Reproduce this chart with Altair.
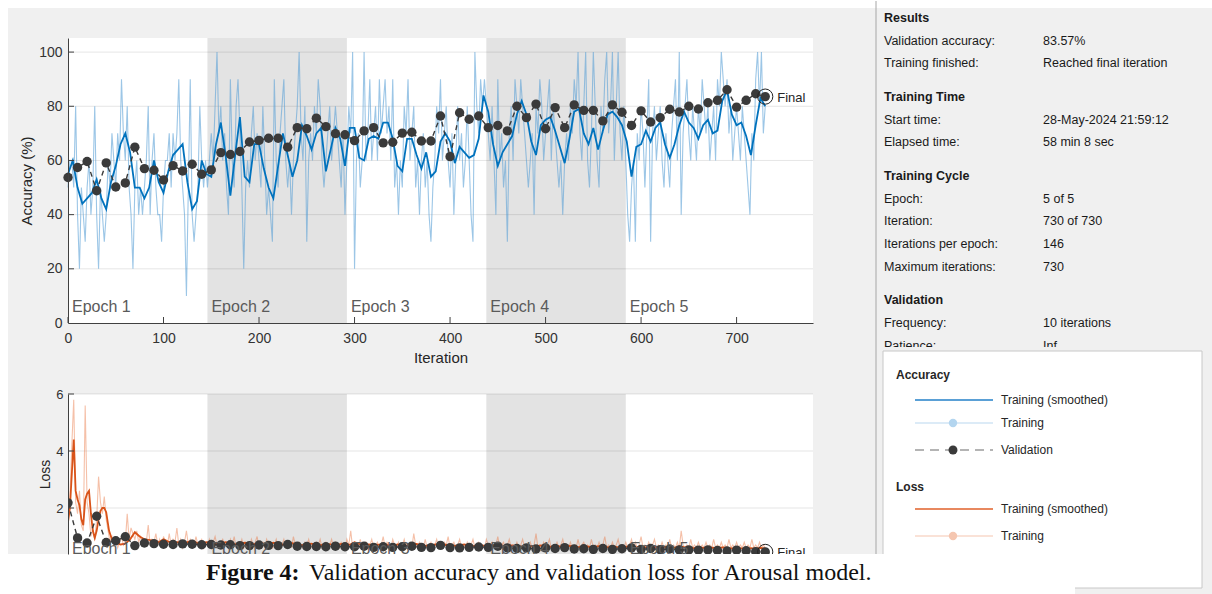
import altair as alt
import pandas as pd

# ---------------- data ----------------
x_ticks = [0, 100, 200, 300, 400, 500, 600, 700]
acc_ticks = [0, 20, 40, 60, 80, 100]
loss_ticks = [2, 4, 6]
epoch_starts = [0, 146, 292, 438, 584]
epoch_labels = ["Epoch 1", "Epoch 2", "Epoch 3", "Epoch 4", "Epoch 5"]
shade_start = [146, 438]
shade_end = [292, 584]

# validation every 10 iterations (0..730)
val_acc = [53.7, 57.4, 59.6, 48.8, 59.1, 50.2, 51.7, 64.9, 57.0, 56.4,
           52.8, 58.1, 56.1, 58.6, 54.9, 56.5, 62.9, 62.2, 63.3, 66.8,
           67.4, 68.2, 68.2, 64.9, 72.1, 71.7, 75.6, 72.5, 69.9, 69.5,
           67.3, 70.9, 72.1, 66.5, 66.7, 70.1, 70.4, 67.2, 67.2, 76.4,
           61.4, 77.6, 75.2, 76.4, 72.1, 72.9, 70.9, 80.0, 75.8, 80.8,
           71.7, 79.5, 72.1, 80.5, 78.5, 78.5, 74.6, 80.5, 77.8, 72.9,
           78.3, 74.2, 75.8, 78.9, 77.9, 80.0, 79.0, 81.3, 82.2, 86.1,
           79.7, 82.2, 84.6, 83.57]
val_loss = [2.18, 0.95, 0.77, 1.71, 0.79, 0.85, 0.99, 0.68, 0.77, 0.75,
            0.73, 0.72, 0.74, 0.73, 0.71, 0.72, 0.70, 0.71, 0.68, 0.68,
            0.70, 0.69, 0.68, 0.72, 0.66, 0.65, 0.65, 0.64, 0.66, 0.64,
            0.64, 0.66, 0.62, 0.64, 0.62, 0.64, 0.66, 0.62, 0.61, 0.69,
            0.61, 0.60, 0.62, 0.63, 0.62, 0.66, 0.60, 0.58, 0.60, 0.56,
            0.60, 0.58, 0.61, 0.56, 0.57, 0.55, 0.58, 0.55, 0.57, 0.60,
            0.55, 0.58, 0.54, 0.56, 0.53, 0.53, 0.52, 0.53, 0.51, 0.49,
            0.52, 0.50, 0.47, 0.46]

# smoothed training accuracy, every 5 iterations (0..730)
smooth_acc = [55, 60, 50, 44, 46, 48, 53, 46, 42, 52,
              58, 66, 70, 63, 50, 50, 46, 50, 60, 52,
              48, 56, 62, 64, 66, 52, 42, 45, 60, 55,
              54, 66, 74, 62, 47, 62, 76, 54, 52, 66,
              66, 57, 50, 46, 58, 70, 62, 54, 60, 73,
              69, 64, 70, 72, 56, 64, 72, 68, 58, 72,
              72, 61, 60, 68, 69, 68, 74, 74, 68, 58,
              56, 68, 68, 62, 57, 63, 54, 56, 67, 70,
              67, 59, 65, 63, 61, 62, 68, 84, 78, 66,
              58, 63, 66, 69, 77, 82, 77, 67, 62, 73,
              75, 76, 71, 65, 59, 68, 78, 79, 70, 66,
              72, 64, 71, 77, 78, 76, 73, 67, 54, 65,
              66, 71, 67, 72, 74, 66, 61, 66, 73, 78,
              74, 72, 68, 73, 75, 70, 71, 82, 86, 77,
              73, 74, 69, 62, 73, 83, 80]

# raw training accuracy, every 2 iterations, one list per epoch
train_acc_e1 = [50, 60, 60, 50, 80, 40, 20, 50, 40, 30,
                50, 60, 40, 50, 80, 40, 20, 50, 40, 30,
                40, 60, 50, 70, 60, 50, 70, 60, 90, 70,
                60, 80, 50, 40, 20, 50, 60, 40, 50, 40,
                50, 60, 80, 40, 60, 70, 50, 40, 40, 30,
                50, 60, 60, 70, 50, 70, 60, 70, 90, 60,
                50, 40, 10, 50, 90, 40, 30, 40, 50, 80,
                60, 50, 60]
train_acc_e2 = [50, 60, 70, 60, 80, 100, 70, 80, 60, 70,
                50, 40, 90, 60, 50, 80, 90, 70, 50, 20,
                50, 60, 50, 70, 80, 60, 70, 60, 50, 80,
                60, 40, 50, 40, 30, 90, 60, 50, 70, 80,
                90, 60, 50, 60, 40, 60, 70, 80, 100, 70,
                60, 80, 30, 60, 70, 60, 80, 70, 90, 80,
                60, 50, 60, 70, 80, 60, 70, 80, 70, 60,
                50, 70, 40]
train_acc_e3 = [60, 80, 70, 100, 20, 60, 70, 50, 60, 100,
                60, 70, 90, 60, 70, 80, 60, 90, 70, 80,
                90, 70, 80, 60, 90, 50, 60, 40, 60, 50,
                80, 70, 90, 60, 70, 80, 50, 60, 40, 60,
                70, 50, 60, 40, 30, 50, 60, 80, 70, 90,
                60, 70, 80, 60, 50, 70, 40, 60, 80, 60,
                70, 50, 60, 80, 60, 40, 30, 100, 80, 70,
                90, 80, 90]
train_acc_e4 = [80, 70, 60, 80, 60, 40, 90, 60, 70, 50,
                60, 30, 70, 80, 60, 90, 80, 70, 90, 80,
                70, 60, 50, 60, 70, 40, 80, 70, 90, 80,
                60, 70, 80, 90, 60, 80, 70, 60, 50, 60,
                40, 60, 70, 60, 80, 70, 90, 80, 100, 70,
                60, 80, 100, 60, 50, 70, 100, 80, 60, 50,
                80, 70, 90, 100, 70, 80, 100, 60, 80, 100,
                70, 60, 80]
train_acc_e5 = [60, 40, 30, 50, 60, 30, 70, 60, 80, 70,
                50, 70, 90, 30, 70, 80, 60, 70, 80, 60,
                50, 70, 60, 50, 70, 80, 90, 60, 100, 40,
                70, 80, 90, 70, 60, 80, 70, 60, 80, 70,
                90, 80, 70, 80, 60, 70, 80, 60, 90, 80,
                100, 90, 80, 90, 70, 80, 60, 70, 80, 70,
                60, 80, 70, 60, 50, 40, 70, 60, 90, 100,
                80, 100, 70, 80]

# smoothed training loss
loss_smooth_iter_early = [0, 2, 4, 6, 8, 10, 12, 14, 16, 18, 20, 22, 24, 26, 28, 30, 32, 34, 36, 38, 40,
                          43, 46, 50, 55, 60, 65, 70, 75, 80, 85, 90, 95, 100, 105, 110, 115, 120,
                          125, 130, 135, 140, 145]
loss_smooth_early = [1.5, 2.0, 3.2, 4.4, 2.6, 2.3, 2.1, 1.6, 1.4, 2.3, 2.5,
                     2.6, 1.8, 1.2, 0.95, 1.2, 1.6, 1.9, 2.0, 2.0, 1.85,
                     1.2, 0.9, 0.8, 0.72, 0.75, 0.9, 1.15, 1.0, 0.9, 0.88, 0.85, 0.8, 0.9,
                     0.82, 0.78, 0.8, 0.76, 0.8, 0.85, 0.78, 0.74, 0.8]
# from iteration 150 to 730 every 5 iterations
loss_smooth_late = [0.78, 0.74, 0.76, 0.80, 0.75, 0.72, 0.76, 0.78, 0.74, 0.73,
                    0.76, 0.72, 0.74, 0.78, 0.73, 0.71, 0.75, 0.77, 0.72, 0.70,
                    0.73, 0.75, 0.71, 0.70, 0.74, 0.72, 0.69, 0.73, 0.75, 0.71,
                    0.80, 0.74, 0.70, 0.72, 0.69, 0.71, 0.74, 0.70, 0.68, 0.72,
                    0.70, 0.68, 0.72, 0.74, 0.69, 0.67, 0.70, 0.72, 0.68, 0.71,
                    0.69, 0.67, 0.70, 0.72, 0.68, 0.66, 0.70, 0.68, 0.65, 0.69,
                    0.74, 0.68, 0.66, 0.69, 0.67, 0.64, 0.68, 0.66, 0.65, 0.69,
                    0.66, 0.64, 0.67, 0.65, 0.63, 0.67, 0.65, 0.63, 0.66, 0.64,
                    0.62, 0.66, 0.64, 0.62, 0.65, 0.63, 0.61, 0.64, 0.66, 0.62,
                    0.64, 0.62, 0.60, 0.63, 0.61, 0.64, 0.62, 0.60, 0.66, 0.63,
                    0.61, 0.59, 0.62, 0.60, 0.58, 0.61, 0.59, 0.62, 0.60, 0.58,
                    0.60, 0.58, 0.56, 0.59, 0.57, 0.60, 0.58]

# raw training loss, every 2 iterations
train_loss_e1 = [1.6, 2.4, 4.2, 5.8, 2.2, 1.8, 2.6, 1.4, 1.2, 5.6,
                 2.2, 1.8, 1.0, 1.3, 0.9, 1.6, 3.1, 2.2, 1.8, 2.4,
                 1.6, 1.2, 0.8, 1.0, 0.7, 0.9, 0.6, 0.8, 1.0, 0.7,
                 0.8, 1.8, 0.9, 1.3, 1.1, 0.9, 1.2, 0.8, 1.0, 0.7,
                 0.9, 0.8, 1.4, 0.7, 0.9, 0.8, 1.1, 0.7, 0.9, 0.6,
                 1.0, 0.8, 0.7, 1.1, 0.7, 0.9, 0.8, 1.3, 0.7, 0.9,
                 0.6, 0.8, 1.2, 0.7, 0.9, 0.8, 0.7, 1.0, 0.7, 0.8,
                 0.9, 0.6, 0.8]
train_loss_rest = [0.7, 0.9, 0.6, 0.8, 1.0, 0.7, 0.6, 0.8, 0.9, 0.7,
                   0.8, 0.6, 0.9, 0.7, 1.0, 0.6, 0.8, 0.7, 0.9, 0.6,
                   0.8, 0.7, 0.6, 0.9, 0.7, 0.8, 1.0, 0.6, 0.7, 0.8,
                   0.6, 0.9, 0.7, 0.8, 0.6, 0.7, 0.9, 0.6, 0.8, 0.7,
                   0.9, 0.6, 0.7, 0.8, 0.6, 1.0, 0.7, 0.6, 0.8, 0.7,
                   0.6, 0.8, 0.7, 0.9, 0.6, 0.7, 0.6, 0.8, 0.7, 0.9,
                   0.6, 0.7, 0.8, 0.6, 0.7, 0.9, 0.6, 0.8, 0.7, 0.6,
                   0.8, 0.7, 0.6, 0.9, 0.7, 1.2, 0.6, 0.8, 0.7, 0.6,
                   0.9, 0.6, 0.7, 0.8, 0.6, 0.7, 0.9, 0.6, 0.7, 0.8,
                   0.6, 0.7, 1.0, 0.6, 0.8, 0.7, 0.6, 0.9, 0.7, 0.6,
                   0.8, 0.6, 0.7, 0.9, 0.6, 0.7, 0.8, 0.6, 1.1, 0.7,
                   0.6, 0.8, 0.7, 0.6, 0.9, 0.6, 0.7, 0.8, 0.6, 0.7,
                   0.9, 0.6, 0.7, 0.6, 0.8, 0.7, 1.0, 0.6, 0.7, 0.8,
                   0.6, 0.7, 0.9, 0.6, 0.7, 0.6, 0.8, 0.6, 0.7, 0.9,
                   0.6, 0.7, 0.8, 0.6, 0.7, 0.6, 0.9, 0.7, 0.6, 0.8,
                   0.6, 0.7, 1.0, 0.6, 0.7, 0.8, 0.6, 0.7, 0.9, 0.6,
                   0.7, 0.6, 0.8, 0.6, 0.7, 0.9, 0.6, 0.7, 0.6, 0.8,
                   0.6, 0.7, 1.1, 0.6, 0.7, 0.6, 0.8, 0.6, 0.7, 0.9,
                   0.6, 0.7, 0.6, 0.8, 0.6, 0.7, 0.9, 0.6, 0.7, 0.6,
                   0.8, 0.6, 0.7, 0.6, 0.9, 0.6, 0.7, 0.8, 0.6, 0.7,
                   0.6, 0.9, 0.6, 0.7, 0.6, 0.8, 0.6, 0.7, 1.0, 0.6,
                   0.7, 0.6, 0.8, 0.6, 0.7, 0.9, 0.6, 0.7, 0.6, 0.8,
                   0.6, 0.7, 0.9, 0.6, 0.8, 0.6, 0.7, 1.0, 0.6, 0.7,
                   0.6, 0.8, 0.6, 0.7, 0.9, 0.6, 0.7, 0.6, 0.8, 0.6,
                   0.7, 0.6, 0.9, 0.6, 0.7, 0.6, 0.8, 0.6, 1.2, 0.7,
                   0.6, 0.7, 0.6, 0.9, 0.6, 0.7, 0.6, 0.8, 0.6, 0.7,
                   0.6, 0.8, 0.6, 0.7, 0.6, 0.9, 0.6, 0.7, 0.6, 0.8,
                   0.6, 0.7, 0.6, 0.9, 0.6, 0.7, 0.6, 0.8, 0.6, 0.7,
                   0.6, 0.8, 0.6, 0.7, 0.6, 0.9, 0.6, 0.7, 0.6, 0.8,
                   0.6, 0.7, 0.6]

# info panel
info_sections = ["Results", "Training Time", "Training Cycle", "Validation"]
info_labels = [["Validation accuracy:", "Training finished:"],
               ["Start time:", "Elapsed time:"],
               ["Epoch:", "Iteration:", "Iterations per epoch:", "Maximum iterations:"],
               ["Frequency:", "Patience:"]]
info_values = [["83.57%", "Reached final iteration"],
               ["28-May-2024 21:59:12", "58 min 8 sec"],
               ["5 of 5", "730 of 730", "146", "730"],
               ["10 iterations", "Inf"]]
legend_acc_labels = ["Training (smoothed)", "Training", "Validation"]
legend_loss_labels = ["Training (smoothed)", "Training"]
caption_bold = "Figure 4:"
caption_text = "Validation accuracy and validation loss for Arousal model."

# ---------------- tables ----------------
val_iter = [10 * i for i in range(len(val_acc))]
val_df = pd.DataFrame({"it": val_iter, "acc": val_acc, "loss": val_loss})
final_df = val_df.tail(1)
sm_acc_df = pd.DataFrame({"it": [5 * i for i in range(len(smooth_acc))], "v": smooth_acc})
train_acc = train_acc_e1 + train_acc_e2 + train_acc_e3 + train_acc_e4 + train_acc_e5
tr_acc_df = pd.DataFrame({"it": [2 * i for i in range(len(train_acc))], "v": train_acc})
sm_loss_df = pd.DataFrame({
    "it": loss_smooth_iter_early + [150 + 5 * i for i in range(len(loss_smooth_late))],
    "v": loss_smooth_early + loss_smooth_late})
train_loss = train_loss_e1 + train_loss_rest
tr_loss_df = pd.DataFrame({"it": [2 * i for i in range(len(train_loss))], "v": train_loss})
epoch_df = pd.DataFrame({"it": epoch_starts, "lab": epoch_labels})
shade_df = pd.DataFrame({"s": shade_start, "e": shade_end})
xt_df = pd.DataFrame({"it": x_ticks})
acc_grid_df = pd.DataFrame({"v": acc_ticks[1:]})
loss_grid_df = pd.DataFrame({"v": loss_ticks})
ONE = pd.DataFrame({"k": [0]})

# ---------------- style / layout ----------------
FONT = "Liberation Sans"
SERIF = "Liberation Serif"
W = 745
H_ACC = 285
GAP = 71
H_LOSS = 160
X_MAX = 780
ACC_TOP = 105.2
LOSS_BOTTOM = 0.386
LOSS_TOP = 6.0
ACC_OX, ACC_OY = 68, 37          # canvas position of accuracy plot
LOSS_OX, LOSS_OY = 68, 37 + H_ACC + GAP   # canvas position of loss plot

BLUE = "#0072bd"
BLUE_L = "#5aa0d6"
ORANGE = "#d95319"
ORANGE_L = "#e8743f"
VAL = "#3a3a3a"
SHADE = "#e3e3e3"
WIN = "#f0f0f0"
AXC = "#404040"

xs = alt.Scale(domain=[0, X_MAX], nice=False, zero=False)
ys_acc = alt.Scale(domain=[0, ACC_TOP], nice=False, zero=False)
ys_loss = alt.Scale(domain=[LOSS_BOTTOM, LOSS_TOP], nice=False, zero=False)

AX_X = alt.Axis(values=x_ticks, title="Iteration", grid=False, ticks=False, tickSize=0,
                domainColor=AXC, labelColor="#333333", labelFontSize=14, labelPadding=8,
                labelFlush=False, labelOverlap=False, titleFontSize=15, titleFontWeight="normal",
                titleColor="#262626", titlePadding=5, format="d", zindex=1)
AX_YA = alt.Axis(values=acc_ticks, title="Accuracy (%)", grid=False, ticks=False, tickSize=0,
                 domainColor=AXC, labelColor="#333333", labelFontSize=14, labelPadding=6,
                 labelFlush=False, labelOverlap=False, titleFontSize=15, titleFontWeight="normal",
                 titleColor="#262626", titlePadding=4, format="d", zindex=1)
AX_YL = alt.Axis(values=loss_ticks, title="Loss", grid=False, ticks=False, tickSize=0,
                 domainColor=AXC, labelColor="#333333", labelFontSize=13, labelPadding=5,
                 labelFlush=False, labelOverlap=False, titleFontSize=14, titleFontWeight="normal",
                 titleColor="#262626", titlePadding=3, format="d", zindex=1)


def XA(f):
    return alt.X(f, type="quantitative", scale=xs, axis=AX_X)


def XL(f):
    return alt.X(f, type="quantitative", scale=xs, axis=None)


def YA(f):
    return alt.Y(f, type="quantitative", scale=ys_acc, axis=AX_YA)


def YL(f):
    return alt.Y(f, type="quantitative", scale=ys_loss, axis=AX_YL)


# helpers for decorations; o is the canvas origin of the chart they are drawn in
def vrect(x, x2, y, y2, fill, o=(0, 0), **kw):
    return alt.Chart(ONE).mark_rect(fill=fill, **kw).encode(
        x=alt.value(x - o[0]), x2=alt.value(x2 - o[0]), y=alt.value(y - o[1]), y2=alt.value(y2 - o[1]))


def vrule(x, x2, y, y2, color, width=1.0, dash=None, o=(0, 0)):
    kw = dict(color=color, strokeWidth=width)
    if dash:
        kw["strokeDash"] = dash
    return alt.Chart(ONE).mark_rule(**kw).encode(
        x=alt.value(x - o[0]), x2=alt.value(x2 - o[0]), y=alt.value(y - o[1]), y2=alt.value(y2 - o[1]))


def vdot(x, y, color, size=60, o=(0, 0)):
    return alt.Chart(ONE).mark_point(filled=True, color=color, size=size, opacity=1).encode(
        x=alt.value(x - o[0]), y=alt.value(y - o[1]))


def vtext(s, x, y, size=12.0, weight="normal", color="#1a1a1a", font=FONT, baseline="middle", o=(0, 0)):
    return alt.Chart(ONE).mark_text(align="left", baseline=baseline, fontSize=size,
                                    fontWeight=weight, color=color, font=font).encode(
        x=alt.value(x - o[0]), y=alt.value(y - o[1]), text=alt.value(s))


def plot_layers(X, Y, H, trdf, smdf, ycol, grid_df, c_raw, raw_op, c_sm, epoch_y, clip):
    return [
        vrect(0, W, 0, H, "white"),
        alt.Chart(shade_df).mark_rect(color=SHADE).encode(x=X("s"), x2="e", y=alt.value(0), y2=alt.value(H)),
        alt.Chart(grid_df).mark_rule(color="black", opacity=0.1).encode(y=Y("v"), x=alt.value(0), x2=alt.value(W)),
        alt.Chart(trdf).mark_line(color=c_raw, opacity=raw_op, strokeWidth=1.1, clip=clip).encode(x=X("it"), y=Y("v")),
        alt.Chart(smdf).mark_line(color=c_sm, strokeWidth=1.8, clip=clip).encode(x=X("it"), y=Y("v")),
        alt.Chart(val_df).mark_line(color=VAL, strokeWidth=1.4, strokeDash=[5, 4], clip=clip).encode(x=X("it"), y=Y(ycol)),
        alt.Chart(val_df).mark_point(filled=True, size=88, color=VAL, opacity=1, clip=clip).encode(x=X("it"), y=Y(ycol)),
        alt.Chart(final_df).mark_point(filled=False, size=230, color="#222222", strokeWidth=1, opacity=1, clip=clip).encode(x=X("it"), y=Y(ycol)),
        alt.Chart(final_df).mark_text(align="left", baseline="middle", dx=12, dy=1, fontSize=13, color="#262626", clip=clip).encode(
            x=X("it"), y=Y(ycol), text=alt.value("Final")),
        alt.Chart(epoch_df).mark_text(align="left", baseline="middle", dx=4, fontSize=16, color="#5a5a5a", clip=clip).encode(
            x=X("it"), y=alt.value(epoch_y), text="lab:N"),
        alt.Chart(grid_df).mark_rule(color=AXC).encode(y=Y("v"), x=alt.value(0), x2=alt.value(6)),
    ]


# ---------------- accuracy panel (also paints the window background) ----------------
OA = (ACC_OX, ACC_OY)
acc_layers = [
    vrect(0, 1212, 0, 594, "white", o=OA),
    vrect(8, 1212, 7, 594, WIN, o=OA),
] + plot_layers(XA, YA, H_ACC, tr_acc_df, sm_acc_df, "acc", acc_grid_df, BLUE_L, 0.6, BLUE, H_ACC - 16, False) + [
    alt.Chart(xt_df).mark_rule(color=AXC).encode(x=XA("it"), y=alt.value(H_ACC), y2=alt.value(H_ACC - 6)),
]
acc = alt.layer(*acc_layers).properties(width=W, height=H_ACC)

# ---------------- loss panel + info panel + caption (drawn last) ----------------
OL = (LOSS_OX, LOSS_OY)
loss_layers = plot_layers(XL, YL, H_LOSS, tr_loss_df, sm_loss_df, "loss", loss_grid_df, ORANGE_L, 0.45, ORANGE,
                          H_LOSS - 5, True)

heads, items = [], []
r = 0
for s, head in enumerate(info_sections):
    heads.append({"lab": head, "py": 17 + 22.7 * r + 10.8 * s - OL[1]})
    r += 1
    for lab, val in zip(info_labels[s], info_values[s]):
        items.append({"lab": lab, "val": val, "py": 17 + 22.7 * r + 10.8 * s - OL[1]})
        r += 1
head_df = pd.DataFrame(heads)
item_df = pd.DataFrame(items)

PY = alt.Y("py:Q", scale=None, axis=None)
panel_layers = [
    vrule(876, 876, 0, 594, "#a6a6a6", o=OL),
    alt.Chart(head_df).mark_text(align="left", baseline="middle", fontSize=12.5, fontWeight="bold",
                                 color="#1a1a1a").encode(x=alt.value(884 - OL[0]), y=PY, text="lab:N"),
    alt.Chart(item_df).mark_text(align="left", baseline="middle", fontSize=12.5,
                                 color="#1a1a1a").encode(x=alt.value(884 - OL[0]), y=PY, text="lab:N"),
    alt.Chart(item_df).mark_text(align="left", baseline="middle", fontSize=12.5,
                                 color="#1a1a1a").encode(x=alt.value(1043 - OL[0]), y=PY, text="val:N"),
    vrect(877, 1212, 346, 350, WIN, o=OL),
    vrect(883, 1202, 350, 587, "white", o=OL, stroke="#c8c8c8", strokeWidth=1),
    vtext("Accuracy", 896, 374, weight="bold", color="#262626", o=OL),
    vrule(915, 993, 399, 399, "#5aa0d6", 2, o=OL),
    vtext(legend_acc_labels[0], 1001, 399, color="#262626", o=OL),
    vrule(915, 993, 422, 422, "#b9d8f0", 1.2, o=OL),
    vdot(953, 422, "#b3d5ef", 70, o=OL),
    vtext(legend_acc_labels[1], 1001, 422, color="#262626", o=OL),
    vrule(915, 993, 449, 449, "#6a6a6a", 1.2, [9, 6], o=OL),
    vdot(953, 449, VAL, 80, o=OL),
    vtext(legend_acc_labels[2], 1001, 449, color="#262626", o=OL),
    vtext("Loss", 896, 486, weight="bold", color="#262626", o=OL),
    vrule(915, 993, 508, 508, "#e0602a", 1.6, o=OL),
    vtext(legend_loss_labels[0], 1001, 508, color="#262626", o=OL),
    vrule(915, 993, 535, 535, "#f5c6b0", 1.2, o=OL),
    vdot(953, 535, "#f5c6b0", 70, o=OL),
    vtext(legend_loss_labels[1], 1001, 535, color="#262626", o=OL),
]
caption_layers = [
    vrect(0, 1075, 553, 594, "white", o=OL),
    vtext(caption_bold, 206, 579, size=24, weight="bold", color="#111111", font=SERIF, baseline="alphabetic", o=OL),
    vtext(caption_text, 309, 579, size=24, color="#111111", font=SERIF, baseline="alphabetic", o=OL),
]
loss = alt.layer(*(loss_layers + panel_layers + caption_layers)).properties(width=W, height=H_LOSS)

chart = alt.vconcat(acc, loss, spacing=GAP, bounds="flush", padding=0).configure(
    font=FONT, background="white"
).configure_view(strokeWidth=0)

chart.save("out.html", embed_options={"renderer": "svg", "actions": False})
